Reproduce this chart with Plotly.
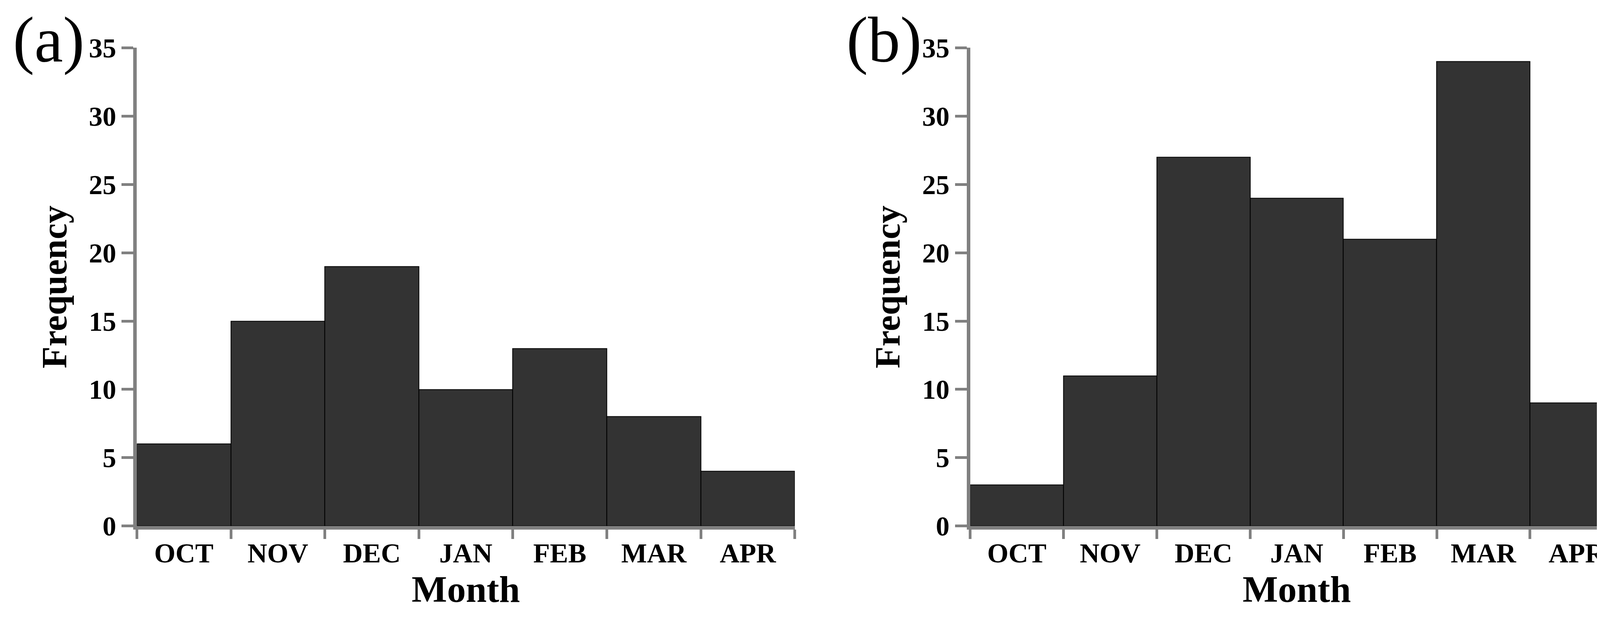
import plotly.graph_objects as go

months = ["OCT", "NOV", "DEC", "JAN", "FEB", "MAR", "APR"]
freq_a = [6, 15, 19, 10, 13, 8, 4]
freq_b = [3, 11, 27, 24, 21, 34, 9]
panel_labels = ["(a)", "(b)"]
yticks = [0, 5, 10, 15, 20, 25, 30, 35]

FONT = "Liberation Serif"
fig = go.Figure()
xpos = [i + 0.5 for i in range(len(months))]
doms = [(0.0816, 0.483), (0.590, 0.9885)]
for k, vals in enumerate([freq_a, freq_b]):
    xa = "x" if k == 0 else "x2"
    ya = "y" if k == 0 else "y2"
    fig.add_trace(go.Bar(x=xpos, y=vals, width=1, xaxis=xa, yaxis=ya,
                         marker=dict(color="#333333", line=dict(color="black", width=2)),
                         showlegend=False))
    axx = dict(domain=doms[k], range=[0, 7], tickvals=xpos, ticktext=months, ticks="",
               showline=True, linecolor="#808080", linewidth=9, showgrid=False, zeroline=False,
               automargin=False,
               minor=dict(tick0=0, dtick=1, ticks="outside", ticklen=24, tickwidth=7, tickcolor="#808080"),
               tickfont=dict(family=FONT, size=70, color="black", weight="bold"),
               title=dict(text="<b>Month</b>", font=dict(family=FONT, size=96, color="black"), standoff=10),
               anchor=ya)
    axy = dict(domain=[0.158, 0.928], range=[0, 35], tickvals=yticks, ticks="outside", ticklen=30,
               tickwidth=7, tickcolor="#808080", showline=True, linecolor="#808080", linewidth=9,
               showgrid=False, zeroline=False, automargin=False,
               tickfont=dict(family=FONT, size=70, color="black", weight="bold"),
               title=dict(text="<b>Frequency</b>", font=dict(family=FONT, size=92, color="black"), standoff=30),
               anchor=xa)
    fig.update_layout(**{("xaxis" if k == 0 else "xaxis2"): axx, ("yaxis" if k == 0 else "yaxis2"): axy})
    fig.add_annotation(text=panel_labels[k], xref="paper", yref="paper",
                       x=doms[k][0] - 0.076, y=1.0, xanchor="left", yanchor="top", showarrow=False,
                       font=dict(family=FONT, size=165, color="black"))

fig.update_layout(width=4196, height=1590, bargap=0, plot_bgcolor="white", paper_bgcolor="white",
                  margin=dict(l=0, r=0, t=0, b=0))
fig.write_html("out.html")
